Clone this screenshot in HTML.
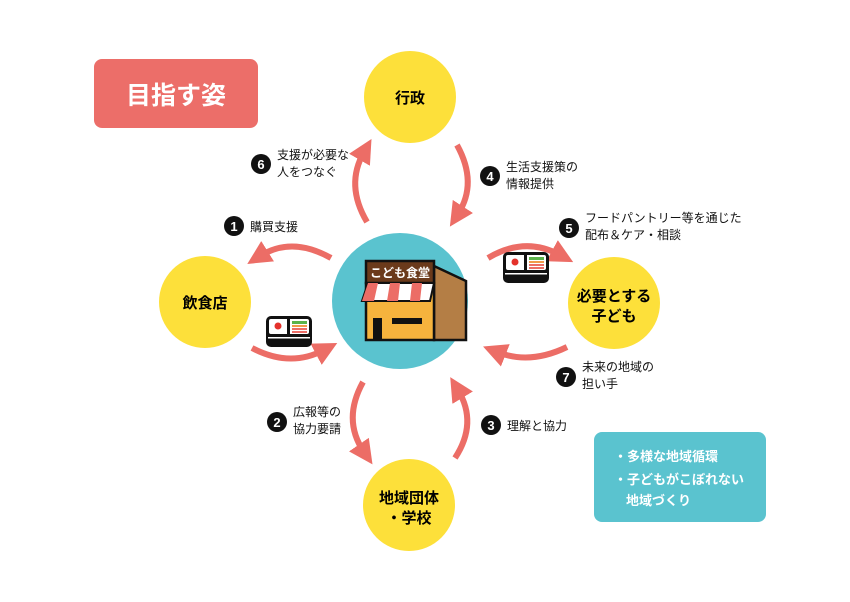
<!DOCTYPE html>
<html><head><meta charset="utf-8"><style>
body{margin:0;background:#fff;}
svg{display:block;}
text{font-family:"Liberation Sans","Noto Sans CJK JP",sans-serif;}
</style></head><body>
<svg width="850" height="602" viewBox="0 0 850 602" xmlns="http://www.w3.org/2000/svg">
<defs>
<marker id="ah" markerWidth="4" markerHeight="4" refX="1.5" refY="2" orient="auto" markerUnits="strokeWidth">
<path d="M0,0 L4,2 L0,4 z" fill="#ec6d66"/>
</marker>
<g id="bento">
<rect x="0" y="0" width="46" height="31" rx="5" fill="#111"/>
<rect x="3" y="3" width="40" height="15" rx="2" fill="#fff"/>
<rect x="21" y="3" width="3" height="15" fill="#111"/>
<circle cx="12" cy="10" r="3.5" fill="#e4312b"/>
<rect x="26" y="5" width="15" height="3" fill="#5bb34a"/>
<rect x="26" y="9" width="15" height="2" fill="#f29a4a"/>
<rect x="26" y="12" width="15" height="2" fill="#ec6d66"/>
<rect x="26" y="15" width="15" height="2" fill="#ec6d66"/>
<rect x="2" y="21" width="42" height="1.5" fill="#fff"/>
</g>
</defs>

<rect x="94" y="59" width="164" height="69" rx="8" fill="#ec6e69"/>
<text x="176" y="104" font-size="25" font-weight="bold" fill="#fff" text-anchor="middle">目指す姿</text>

<circle cx="410" cy="97" r="46" fill="#fde03a"/>
<text x="410" y="103" font-size="15" font-weight="bold" text-anchor="middle">行政</text>
<circle cx="205" cy="302" r="46" fill="#fde03a"/>
<text x="205" y="308" font-size="15" font-weight="bold" text-anchor="middle">飲食店</text>
<circle cx="614" cy="303" r="46" fill="#fde03a"/>
<text x="614" y="301" font-size="15" font-weight="bold" text-anchor="middle">必要とする</text>
<text x="614" y="321" font-size="15" font-weight="bold" text-anchor="middle">子ども</text>
<circle cx="409" cy="505" r="46" fill="#fde03a"/>
<text x="409" y="503" font-size="15" font-weight="bold" text-anchor="middle">地域団体</text>
<text x="409" y="523" font-size="15" font-weight="bold" text-anchor="middle">・学校</text>

<circle cx="400" cy="301" r="68" fill="#5ac3cf"/>
<g>
<polygon points="434,266 466,281 466,340 434,340" fill="#b47e45" stroke="#111" stroke-width="2.5"/>
<rect x="366" y="283" width="68" height="57" fill="#f6b33d" stroke="#111" stroke-width="2.5"/>
<rect x="366" y="261" width="68" height="22" fill="#6b3a1b" stroke="#111" stroke-width="2.5"/>
<text x="400" y="277" font-size="12" font-weight="bold" fill="#fff" text-anchor="middle">こども食堂</text>
<path d="M362,301 L368,283 L434,283 L430,301 Z" fill="#fff" stroke="#111" stroke-width="2"/>
<path d="M362,301 L368,283 L378,283 L374,301 Z M387,301 L390,283 L400,283 L398,301 Z M410,301 L412,283 L422,283 L420,301 Z" fill="#ec6d66"/>
<rect x="373" y="318" width="9" height="22" fill="#111"/>
<rect x="392" y="318" width="30" height="6" fill="#111"/>
</g>

<g fill="none" stroke="#ec6d66" stroke-width="6" marker-end="url(#ah)">
<path d="M367,222 Q345,185 364,152"/>
<path d="M457,145 Q478,183 458,214"/>
<path d="M331,258 Q292,236 260,256"/>
<path d="M252,348 Q290,368 324,350"/>
<path d="M488,258 Q525,236 560,255"/>
<path d="M567,347 Q530,365 497,352"/>
<path d="M363,382 Q342,420 364,452"/>
<path d="M455,458 Q478,423 458,390"/>
</g>

<use href="#bento" x="266" y="316"/>
<use href="#bento" x="503" y="252"/>

<g font-size="12" fill="#111">
<circle cx="261" cy="164" r="10" fill="#111"/><text x="261" y="169" font-size="13" font-weight="bold" fill="#fff" text-anchor="middle">6</text>
<text x="277" y="159">支援が必要な</text><text x="277" y="176">人をつなぐ</text>
<circle cx="490" cy="176" r="10" fill="#111"/><text x="490" y="181" font-size="13" font-weight="bold" fill="#fff" text-anchor="middle">4</text>
<text x="506" y="171">生活支援策の</text><text x="506" y="188">情報提供</text>
<circle cx="234" cy="226" r="10" fill="#111"/><text x="234" y="231" font-size="13" font-weight="bold" fill="#fff" text-anchor="middle">1</text>
<text x="250" y="231">購買支援</text>
<circle cx="569" cy="228" r="10" fill="#111"/><text x="569" y="233" font-size="13" font-weight="bold" fill="#fff" text-anchor="middle">5</text>
<text x="585" y="222">フードパントリー等を通じた</text><text x="585" y="239">配布＆ケア・相談</text>
<circle cx="566" cy="377" r="10" fill="#111"/><text x="566" y="382" font-size="13" font-weight="bold" fill="#fff" text-anchor="middle">7</text>
<text x="582" y="371">未来の地域の</text><text x="582" y="388">担い手</text>
<circle cx="277" cy="422" r="10" fill="#111"/><text x="277" y="427" font-size="13" font-weight="bold" fill="#fff" text-anchor="middle">2</text>
<text x="293" y="416">広報等の</text><text x="293" y="433">協力要請</text>
<circle cx="491" cy="425" r="10" fill="#111"/><text x="491" y="430" font-size="13" font-weight="bold" fill="#fff" text-anchor="middle">3</text>
<text x="507" y="430">理解と協力</text>
</g>

<rect x="594" y="432" width="172" height="90" rx="8" fill="#5ac3cf"/>
<g font-size="13" font-weight="bold" fill="#fff">
<text x="614" y="461">・多様な地域循環</text>
<text x="614" y="484">・子どもがこぼれない</text>
<text x="626" y="505">地域づくり</text>
</g>
</svg>
</body></html>
